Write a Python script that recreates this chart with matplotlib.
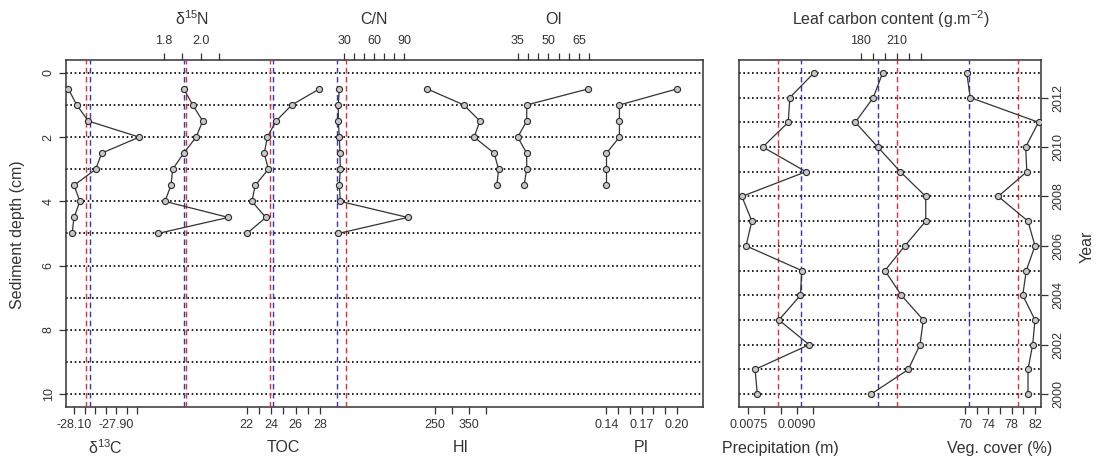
import matplotlib
matplotlib.use("Agg")
import matplotlib.pyplot as plt
import matplotlib.transforms as mtransforms
import numpy as np

plt.rcParams['font.family'] = ['Liberation Sans', 'DejaVu Sans']
plt.rcParams['mathtext.fontset'] = 'custom'
plt.rcParams['mathtext.rm'] = 'Liberation Sans'
plt.rcParams['mathtext.it'] = 'Liberation Sans:italic'
plt.rcParams['text.color'] = '#333333'

# ---- sediment core (left panel) ----
depth = [0.5, 1.0, 1.5, 2.0, 2.5, 3.0, 3.5, 4.0, 4.5, 5.0]
depth_rock = [0.5, 1.0, 1.5, 2.0, 2.5, 3.0, 3.5]

d13c = [-28.127, -28.087, -28.032, -27.791, -27.969, -27.997, -28.100, -28.072, -28.100, -28.109]
d15n = [1.907, 1.956, 2.010, 1.974, 1.907, 1.847, 1.838, 1.805, 2.149, 1.766]
toc = [27.95, 25.69, 24.40, 23.69, 23.44, 23.77, 22.70, 22.43, 23.56, 22.02]
cn = [25.0, 24.0, 24.0, 25.0, 25.7, 26.0, 25.0, 26.0, 93.4, 24.0]
hi = [227, 335, 382, 365, 424, 437, 432]
oi = [69.4, 39.4, 39.4, 35.0, 39.4, 39.4, 38.1]
pi = [0.200, 0.151, 0.151, 0.151, 0.140, 0.140, 0.140]

# reference lines (red, blue)
d13c_ref = [-28.042, -28.023]
d15n_ref = [1.918, 1.907]
toc_ref = [23.93, 24.18]
cn_ref = [31.7, 23.0]

# ---- climate record (right panel) ----
years = [2013, 2012, 2011, 2010, 2009, 2008, 2007, 2006, 2005, 2004, 2003, 2002, 2001, 2000]
precip = [0.00954, 0.00879, 0.00874, 0.00795, 0.00929, 0.00730, 0.00761,
          0.00743, 0.00916, 0.00912, 0.00845, 0.00939, 0.00771, 0.00778]
leaf = [198.3, 190.5, 175.5, 194.2, 213.0, 234.2, 234.2, 216.8, 200.2, 213.9, 232.2, 229.4, 219.7, 188.6]
veg = [70.3, 70.9, 82.6, 80.4, 80.6, 75.7, 80.8, 82.0, 80.5, 79.9, 82.0, 81.6, 80.8, 80.8]

precip_ref = [0.00843, 0.00913]
leaf_ref = [210.5, 194.7]
veg_ref = [79.1, 70.7]

W, H = 1100, 463
fig = plt.figure(figsize=(W / 100, H / 100), dpi=100)

PANEL_TOP, PANEL_BOT = 60, 407


def box(x0, x1):
    return [x0 / W, 1 - PANEL_BOT / H, (x1 - x0) / W, (PANEL_BOT - PANEL_TOP) / H]


LEFT_X = (65.7, 703)
RIGHT_X = (739, 1041)

left = fig.add_axes(box(*LEFT_X))
right = fig.add_axes(box(*RIGHT_X))

INK = '#333333'
for a in (left, right):
    for s in a.spines.values():
        s.set_color(INK)
        s.set_linewidth(1.1)
    a.set_xticks([])
    a.tick_params(axis='y', direction='out', length=5, width=0.9, color=INK,
                  labelsize=9, labelcolor=INK, pad=3, labelrotation=90)

left.set_ylim(10.4, -0.4)
left.set_yticks([0, 2, 4, 6, 8, 10])
for lab in left.get_yticklabels():
    lab.set_va('center')
left.hlines(range(0, 11), 0, 1, transform=left.get_yaxis_transform(),
            colors='black', linestyles=(0, (1, 1.6)), linewidth=1.2, zorder=1)

right.set_ylim(1999.48, 2013.52)
right.yaxis.tick_right()
right.set_yticks(range(2000, 2013, 2))
for lab in right.get_yticklabels():
    lab.set_va('center')
right.hlines(range(2000, 2014), 0, 1, transform=right.get_yaxis_transform(),
             colors='black', linestyles=(0, (1, 1.6)), linewidth=1.2, zorder=1)

fig.text(18 / W, 1 - 235 / H, 'Sediment depth (cm)', rotation=90, ha='center', va='center',
         fontsize=11.5)
fig.text(1087 / W, 1 - 247 / H, 'Year', rotation=90, ha='center', va='center', fontsize=11.5)


def variable(host, panel_x, y, vals, ticks, labels, anchor_px, side, title, refs=None):
    t = host.twiny()
    for s in t.spines.values():
        s.set_visible(False)
    p0, p1 = panel_x
    a0, a1 = anchor_px
    slope = (ticks[-1] - ticks[0]) / (a1 - a0)
    t.set_xlim(ticks[0] + (p0 - a0) * slope, ticks[0] + (p1 - a0) * slope)
    t.xaxis.set_ticks_position(side)
    t.set_xticks(ticks, labels)
    t.tick_params(axis='x', direction='out', length=5, width=0.9, color=INK,
                  labelsize=9, labelcolor=INK, pad=4)
    if refs is not None:
        for v, c in zip(refs, ['#d9303a', '#3535b5']):
            t.axvline(v, color=c, linestyle=(0, (4, 2.5)), linewidth=1.0, zorder=2)
    t.plot(vals, y, color=INK, linewidth=0.9, marker='o', markersize=4.4,
           markerfacecolor='#c8c8c8', markeredgecolor='#2a2a2a', markeredgewidth=0.8, zorder=3)
    trans = mtransforms.blended_transform_factory(t.transData, fig.transFigure)
    ty = 1 - (448 if side == 'bottom' else 19) / H
    t.text((ticks[0] + ticks[-1]) / 2, ty, title, transform=trans, ha='center', va='center',
           fontsize=11.5)
    return t


def tick_labels(ticks, shown, fmt):
    return [fmt.format(v) if any(abs(v - s) < 1e-9 for s in shown) else '' for v in ticks]


t = [round(-28.10 + 0.05 * i, 2) for i in range(7)]
variable(left, LEFT_X, depth, d13c, t, tick_labels(t, [-28.10, -27.90], '{:.2f}'),
         (74, 137.3), 'bottom', 'δ$^{13}$C', d13c_ref)

t = [1.8, 1.9, 2.0, 2.1]
variable(left, LEFT_X, depth, d15n, t, tick_labels(t, [1.8, 2.0], '{:.1f}'),
         (164, 219.3), 'top', 'δ$^{15}$N', d15n_ref)

t = list(range(22, 29))
variable(left, LEFT_X, depth, toc, t, tick_labels(t, [22, 24, 26, 28], '{:d}'),
         (246.7, 320), 'bottom', 'TOC', toc_ref)

t = list(range(30, 91, 10))
variable(left, LEFT_X, depth, cn, t, tick_labels(t, [30, 60, 90], '{:d}'),
         (344.3, 404.3), 'top', 'C/N', cn_ref)

t = [250, 300, 350, 400]
variable(left, LEFT_X, depth_rock, hi, t, tick_labels(t, [250, 350], '{:d}'),
         (435, 486), 'bottom', 'HI')

t = list(range(35, 71, 5))
variable(left, LEFT_X, depth_rock, oi, t, tick_labels(t, [35, 50, 65], '{:d}'),
         (517.7, 589.3), 'top', 'OI')

t = [round(0.14 + 0.01 * i, 2) for i in range(7)]
variable(left, LEFT_X, depth_rock, pi, t, tick_labels(t, [0.14, 0.17, 0.20], '{:.2f}'),
         (606.5, 677), 'bottom', 'PI')

t = [round(0.0075 + 0.0005 * i, 4) for i in range(5)]
variable(right, RIGHT_X, years, precip, t, tick_labels(t, [0.0075, 0.0090], '{:.4f}'),
         (748.3, 812.7), 'bottom', 'Precipitation (m)', precip_ref)

t = list(range(180, 231, 10))
variable(right, RIGHT_X, years, leaf, t, tick_labels(t, [180, 210], '{:d}'),
         (860.7, 920.7), 'top', 'Leaf carbon content (g.m$^{-2}$)', leaf_ref)

t = list(range(70, 83, 2))
variable(right, RIGHT_X, years, veg, t, tick_labels(t, [70, 74, 78, 82], '{:d}'),
         (965, 1035), 'bottom', 'Veg. cover (%)', veg_ref)

fig.savefig('out.png', dpi=100)
